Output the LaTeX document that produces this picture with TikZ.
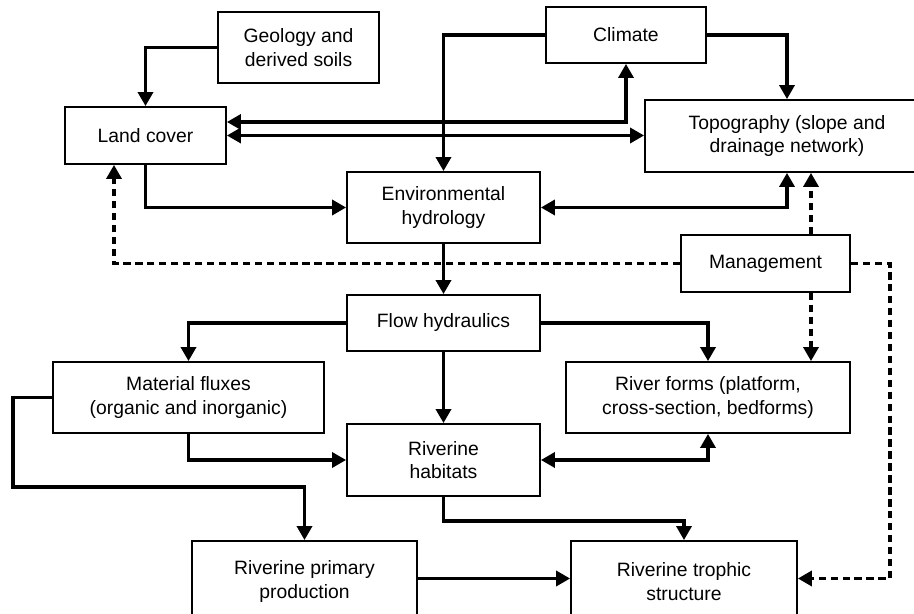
\documentclass[tikz,border=0pt]{standalone}
\usepackage{fontspec}
\setmainfont{Liberation Sans}
\usetikzlibrary{arrows.meta}

\begin{document}
\begin{tikzpicture}[x=0.02cm, y=-0.02cm,
    box/.style={draw, line width=1pt, align=center, inner sep=0pt,
        font=\fontsize{11}{13.5}\selectfont},
    link/.style={line width=2pt, -{Triangle[length=8pt,width=8.5pt]}},
    both/.style={link, {Triangle[length=8pt,width=8.5pt]}-{Triangle[length=8pt,width=8.5pt]}},
    mng/.style={link, dash pattern=on 4.2pt off 2.6pt}]
    \clip (0,0) rectangle (914,614);
    \node[box, minimum width=3.22cm, minimum height=1.42cm] (geo) at (298.5,47.5) {Geology and\\derived soils};
    \node[box, minimum width=3.2cm, minimum height=1.12cm] (clim) at (626,35) {Climate};
    \node[box, minimum width=3.22cm, minimum height=1.14cm] (land) at (145.5,135.5) {Land cover};
    \node[box, minimum width=5.68cm, minimum height=1.44cm] (topo) at (787,136) {Topography (slope and\\drainage network)};
    \node[box, minimum width=3.86cm, minimum height=1.42cm] (env) at (443.5,207.5) {Environmental\\hydrology};
    \node[box, minimum width=3.38cm, minimum height=1.14cm] (mgmt) at (765.5,263.5) {Management};
    \node[box, minimum width=3.86cm, minimum height=1.12cm] (flow) at (443.5,323) {Flow hydraulics};
    \node[box, minimum width=5.42cm, minimum height=1.42cm] (mat) at (188.5,397.5) {Material fluxes\\(organic and inorganic)};
    \node[box, minimum width=5.68cm, minimum height=1.42cm] (form) at (708,397.5) {River forms (platform,\\cross-section, bedforms)};
    \node[box, minimum width=3.86cm, minimum height=1.44cm] (hab) at (443.5,460) {Riverine\\habitats};
    \node[box, minimum width=4.5cm, minimum height=1.62cm] (prim) at (304.5,581.5) {Riverine primary\\production};
    \node[box, minimum width=4.52cm, minimum height=1.62cm] (troph) at (684,581.5) {Riverine trophic\\structure};
    \coordinate (m1) at (13,487);
    \coordinate (d1) at (114,263.5);
    \coordinate (d2) at (890,400);
    \coordinate (mx) at (811,0);

    \draw[link] (geo.west) -| (land.north);
    \draw[link] (clim.west) -| (env.north);
    \draw[link] (clim.east) -| (topo.north);
    \draw[both] ([yshift=0.27cm]land.east) -| (clim.south);
    \draw[both] (land.east) -- (land.east -| topo.west);
    \draw[link] (land.south) |- (env.west);
    \draw[both] (env.east) -| (topo.south);
    \draw[link] (env) -- (flow);
    \draw[link] (flow.west) -| (mat.north);
    \draw[link] (flow.east) -| (form.north);
    \draw[link] (flow) -- (hab);
    \draw[link] (mat.south) |- (hab.west);
    \draw[both] (hab.east) -| (form.south);
    \draw[link] (mat.west) -| (m1) -| (prim.north);
    \draw[link] (hab.south) -- ++(0,24) -| (troph.north);
    \draw[link] ([yshift=0.06cm]prim.east) -- ([yshift=0.06cm]troph.west);
    \draw[mng] (mgmt.west) -- (d1) -- (d1 |- land.south);
    \draw[mng] (mgmt.north -| mx) -- (topo.south -| mx);
    \draw[mng] (mgmt.south -| mx) -- (form.north -| mx);
    \draw[mng] (mgmt.east) -| (d2) |- ([yshift=0.06cm]troph.east);
\end{tikzpicture}
\end{document}
